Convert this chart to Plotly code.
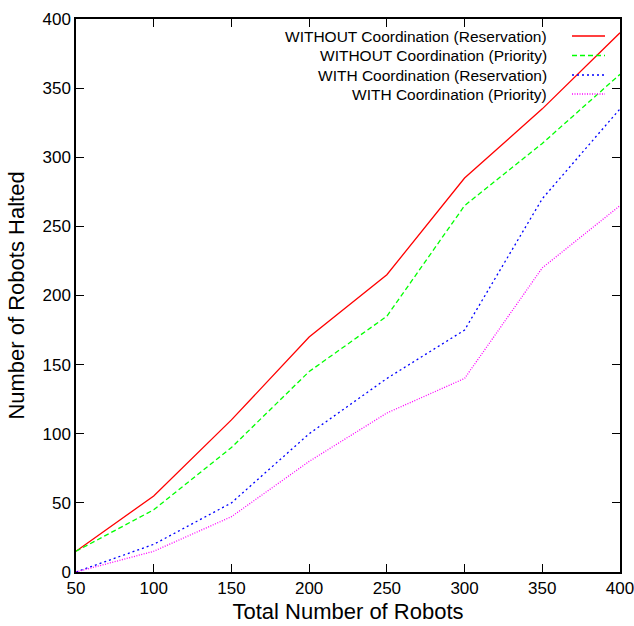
import plotly.graph_objects as go

robots = [50, 100, 150, 200, 250, 300, 350, 400]
without_reservation = [15, 55, 110, 170, 215, 285, 335, 390]
without_priority = [15, 45, 90, 145, 185, 265, 310, 360]
with_reservation = [0, 20, 50, 100, 140, 175, 270, 335]
with_priority = [0, 15, 40, 80, 115, 140, 220, 265]

series_names = [
    "WITHOUT Coordination (Reservation)",
    "WITHOUT Coordination (Priority)",
    "WITH Coordination (Reservation)",
    "WITH Coordination (Priority)",
]
series_values = [without_reservation, without_priority, with_reservation, with_priority]
colors = ["#ff0000", "#00ff00", "#0000ff", "#ff00ff"]
dashes = ["solid", "5px,3px", "2px,3px", "1px,1.5px"]

FONT = "Liberation Sans, Arial, Helvetica, sans-serif"

fig = go.Figure()
for name, vals, c, d in zip(series_names, series_values, colors, dashes):
    fig.add_trace(go.Scatter(x=robots, y=vals, mode="lines", name=name,
                             line=dict(color=c, width=1.3, dash=d), showlegend=False))

W, H = 634, 626
ml, mr, mt, mb = 76, 14, 19, 54
pw, ph = W - ml - mr, H - mt - mb

def px_x(p):
    return (p - ml) / pw

def px_y(p):
    return 1 - (p - mt) / ph

# gnuplot-style key: right-aligned text, sample line to the right
rows = [36, 55.5, 75, 94]
for name, c, d, ry in zip(series_names, colors, dashes, rows):
    fig.add_annotation(x=px_x(549), y=px_y(ry), xref="paper", yref="paper",
                       text=name, showarrow=False, xanchor="right", yanchor="middle",
                       font=dict(family=FONT, size=15.5, color="black"))
    fig.add_shape(type="line", xref="paper", yref="paper",
                  x0=px_x(572), x1=px_x(605), y0=px_y(ry), y1=px_y(ry),
                  line=dict(color=c, width=1.5, dash=d))

axis_common = dict(showline=True, linecolor="black", linewidth=1.5, mirror="ticks",
                   ticks="inside", ticklen=8, tickwidth=1, tickcolor="black",
                   showgrid=False, zeroline=False,
                   tickfont=dict(family=FONT, size=17, color="black"))

fig.update_xaxes(range=[50, 400], tickvals=robots, ticktext=[str(v) for v in robots],
                 ticklabeloverflow="allow",
                 title=dict(text="Total Number of Robots", font=dict(family=FONT, size=22, color="black"), standoff=6),
                 **axis_common)
fig.update_yaxes(range=[0, 400], tickvals=list(range(0, 401, 50)),
                 title=dict(text="Number of Robots Halted", font=dict(family=FONT, size=22, color="black"), standoff=12),
                 **axis_common)

fig.update_layout(width=W, height=H, margin=dict(l=ml, r=mr, t=mt, b=mb, autoexpand=False),
                  plot_bgcolor="white", paper_bgcolor="white",
                  font=dict(family=FONT, color="black"))

fig.write_html("out.html")
